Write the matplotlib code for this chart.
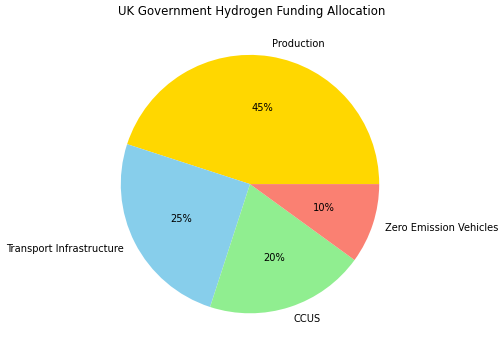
import matplotlib.pyplot as plt

categories = ['Production', 'Transport Infrastructure', 'CCUS', 'Zero Emission Vehicles']
funding_share = [45, 25, 20, 10]
colors = ['gold', 'skyblue', 'lightgreen', 'salmon']

fig = plt.figure(figsize=(5.03, 3.53), dpi=100)
# axes placed so the pie sits where it does in the original
ax = fig.add_axes([0.0, 0.021, 0.994, 0.915])
ax.pie(funding_share, labels=categories, colors=colors, autopct='%1.0f%%',
       textprops={'fontsize': 7.1})
fig.suptitle('UK Government Hydrogen Funding Allocation', fontsize=8.5, y=0.985)
plt.savefig('out.png', dpi=100)
